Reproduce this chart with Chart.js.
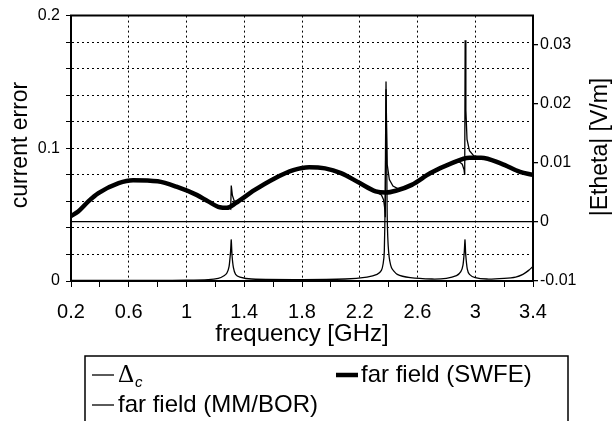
<!DOCTYPE html>
<html>
<head>
<meta charset="utf-8">
<script src="https://cdn.jsdelivr.net/npm/chart.js@4.4.1/dist/chart.umd.min.js"></script>
<style>
html,body{margin:0;padding:0;background:#fff}
#wrap{width:614px;height:421px}
</style>
</head>
<body>
<div id="wrap"><canvas id="c" width="614" height="421"></canvas></div>
<script>
// current error (left axis)
const freqDelta = [0.2,0.5,0.8,1.0,1.15,1.22,1.26,1.28,1.295,1.305,1.31,1.315,1.325,1.34,1.37,1.45,1.8,2.1,2.25,2.32,2.35,2.362,2.37,2.376,2.382,2.39,2.4,2.42,2.46,2.55,2.7,2.8,2.87,2.9,2.915,2.924,2.929,2.934,2.945,2.96,3.0,3.08,3.2,3.28,3.33,3.37,3.4];
const deltaC    = [0.0005,0.0005,0.0005,0.0006,0.001,0.002,0.004,0.006,0.011,0.022,0.031,0.02,0.01,0.005,0.003,0.0015,0.001,0.0015,0.003,0.005,0.008,0.013,0.022,0.06,0.15,0.05,0.022,0.01,0.005,0.0025,0.0015,0.002,0.004,0.007,0.012,0.022,0.031,0.02,0.009,0.005,0.0025,0.0015,0.002,0.003,0.005,0.008,0.011];

// far field SWFE (right axis)
const freqSWFE = [0.2,0.25,0.32,0.39,0.53,0.63,0.8,0.93,1.07,1.15,1.23,1.28,1.34,1.47,1.61,1.74,1.85,1.96,2.07,2.2,2.31,2.38,2.45,2.56,2.69,2.83,2.96,3.04,3.18,3.31,3.4];
const swfe     = [0.0010,0.0018,0.0035,0.0049,0.0066,0.0071,0.0069,0.0060,0.0046,0.0035,0.0025,0.0024,0.0032,0.0054,0.0074,0.0088,0.0093,0.0091,0.0083,0.0066,0.0052,0.0050,0.0053,0.0063,0.0083,0.0099,0.0109,0.0109,0.0099,0.0085,0.0080];

// far field MM/BOR (right axis)
const freqMM = [0.2,0.25,0.32,0.39,0.53,0.63,0.8,0.93,1.07,1.15,1.23,1.28,1.3,1.306,1.31,1.318,1.33,1.36,1.47,1.61,1.74,1.85,1.96,2.07,2.2,2.3,2.35,2.365,2.372,2.377,2.382,2.39,2.405,2.43,2.47,2.56,2.69,2.83,2.89,2.91,2.922,2.927,2.93,2.935,2.943,2.96,2.99,3.04,3.18,3.31,3.4];
const mmbor  = [0.0010,0.0018,0.0035,0.0049,0.0066,0.0071,0.0069,0.0060,0.0046,0.0035,0.0025,0.0024,0.0023,0.0022,0.0062,0.0045,0.0036,0.0034,0.0054,0.0074,0.0088,0.0093,0.0091,0.0083,0.0066,0.0053,0.0046,0.0038,0.0025,0.0008,0.0225,0.0098,0.0072,0.0061,0.0056,0.0063,0.0083,0.0099,0.0102,0.0098,0.0089,0.0080,0.0308,0.0190,0.0140,0.0121,0.0112,0.0109,0.0099,0.0085,0.0080];

const xTickStep = 0.2;
const leftTickStep = 0.02;
const rightTicks = [-0.01,0,0.01,0.02,0.03];

const pts = (xs, ys) => xs.map((x,i)=>({x:x, y:ys[i]}));
const FONT = "'Liberation Sans', Arial, sans-serif";

const decor = {
    id: "decor",
    afterDraw(chart){
        const ctx = chart.ctx, a = chart.chartArea;
        ctx.save();
        // top frame line
        ctx.strokeStyle = "#000"; ctx.lineWidth = 2;
        ctx.beginPath(); ctx.moveTo(a.left-1, a.top); ctx.lineTo(a.right+1, a.top); ctx.stroke();

        ctx.fillStyle = "#000";
        ctx.textAlign = "center"; ctx.textBaseline = "middle";
        ctx.font = "23px " + FONT;
        ctx.save(); ctx.translate(21, 145); ctx.rotate(-Math.PI/2);
        ctx.fillText("current error", 0, 0); ctx.restore();
        ctx.save(); ctx.translate(601, 147); ctx.rotate(-Math.PI/2);
        ctx.fillText("|Etheta| [V/m]", 0, 0); ctx.restore();
        ctx.font = "24px " + FONT;
        ctx.fillText("frequency [GHz]", (a.left+a.right)/2, 334);

        // legend box
        const bl = 85, br = 568, bt = 356;
        ctx.lineWidth = 1.5;
        ctx.beginPath();
        ctx.moveTo(bl, 422); ctx.lineTo(bl, bt); ctx.lineTo(br, bt); ctx.lineTo(br, 422);
        ctx.stroke();
        const ds = chart.data.datasets;
        const row1 = 375, row2 = 405;
        const item = (x, y, d) => {
            ctx.lineWidth = d.borderWidth;
            ctx.beginPath(); ctx.moveTo(x, y); ctx.lineTo(x+22, y); ctx.stroke();
        };
        ctx.textAlign = "left";
        item(92, row1, ds[0]);
        ctx.font = "25px 'Liberation Serif', serif";
        ctx.fillText("\u0394", 118, row1);
        ctx.font = "italic 15px " + FONT;
        ctx.fillText("c", 135, row1+8);
        item(336, row1, ds[1]);
        ctx.font = "24px " + FONT;
        ctx.fillText("far field (SWFE)", 361, row1);
        item(92, row2, ds[2]);
        ctx.fillText("far field (MM/BOR)", 118, row2);
        ctx.restore();
    }
};

new Chart(document.getElementById("c"), {
    type: "line",
    data: {
        datasets: [
            {label: "\u0394c", data: pts(freqDelta, deltaC), yAxisID: "yL", borderColor: "#000", borderWidth: 1.3, pointRadius: 0, tension: 0.2, order: 1},
            {label: "far field (SWFE)", data: pts(freqSWFE, swfe), yAxisID: "yR", borderColor: "#000", borderWidth: 4.5, pointRadius: 0, cubicInterpolationMode: "monotone", order: 3},
            {label: "far field (MM/BOR)", data: pts(freqMM, mmbor), yAxisID: "yR", borderColor: "#000", borderWidth: 1.3, pointRadius: 0, tension: 0, order: 2}
        ]
    },
    options: {
        responsive: false,
        animation: false,
        devicePixelRatio: 1,
        layout: {padding: {top: 14, left: 0, right: 0, bottom: 0}},
        plugins: {legend: {display: false}, tooltip: {enabled: false}},
        scales: {
            x: {
                type: "linear", min: 0.2, max: 3.4,
                afterFit: s => { s.height = 140; },
                ticks: {stepSize: xTickStep, color: "#000", font: {family: FONT, size: 20}, padding: 13, maxRotation: 0, autoSkip: false,
                    callback: (v, i) => i % 2 === 0 ? String(Number(v.toFixed(1))) : ""},
                grid: {
                    color: c => (c.index % 2 === 0 && c.index > 0 && c.index < 16) ? "#000" : "rgba(0,0,0,0)",
                    tickColor: "#000", tickLength: 6, lineWidth: 1
                },
                border: {display: true, color: "#000", width: 2, dash: [2, 3]}
            },
            yL: {
                position: "left", min: 0, max: 0.2,
                afterFit: s => { s.width = 71; },
                ticks: {stepSize: leftTickStep, color: "#000", font: {family: FONT, size: 16}, padding: 6,
                    callback: (v, i) => i % 5 === 0 ? String(Number(v.toFixed(2))) : ""},
                grid: {
                    color: c => (c.index > 0 && c.index < 10) ? "#000" : "rgba(0,0,0,0)",
                    tickColor: "#000", tickLength: 5, lineWidth: 1
                },
                border: {display: true, color: "#000", width: 2, dash: [2, 3]}
            },
            yR: {
                position: "right", min: -0.01, max: 0.035,
                afterFit: s => { s.width = 81; },
                afterBuildTicks: s => { s.ticks = rightTicks.map(v => ({value: v})); },
                ticks: {color: "#000", font: {family: FONT, size: 16}, padding: 2,
                    callback: v => String(Number(v.toFixed(2)))},
                grid: {
                    color: c => (c.tick && c.tick.value === 0) ? "#000" : "rgba(0,0,0,0)",
                    tickColor: "#000", tickLength: 5, lineWidth: 1.3
                },
                border: {display: true, color: "#000", width: 2}
            }
        }
    },
    plugins: [decor]
});
</script>
</body>
</html>
